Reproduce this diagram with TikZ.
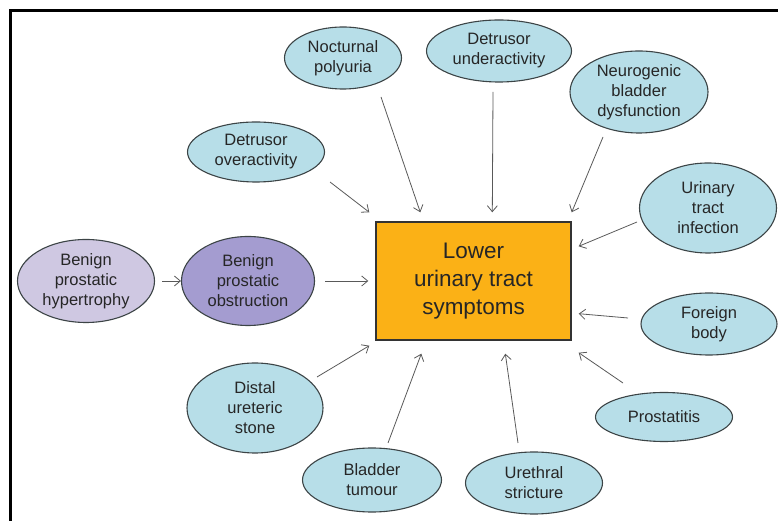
\documentclass[tikz,border=0pt]{standalone}
\usepackage{fontspec}
\setmainfont{Liberation Sans}
\usepackage{xcolor}
\usepackage{tikz}
\usetikzlibrary{shapes,arrows.meta,positioning}

\definecolor{causefill}{HTML}{B7DEE8}
\definecolor{bphfill}{HTML}{CFC8E2}
\definecolor{bpofill}{HTML}{A49CD0}
\definecolor{lutsfill}{HTML}{FBB116}
\definecolor{edgegray}{HTML}{3C4446}

\begin{document}
\begin{tikzpicture}[
  x=1pt, y=1pt,
  cause/.style={
    ellipse,
    draw=edgegray,
    line width=1.1pt,
    fill=causefill,
    inner sep=0pt,
    align=center,
    text=black!85,
    font=\fontsize{16.5}{20}\selectfont
  },
  luts/.style={
    rectangle,
    draw=black!80,
    line width=1.4pt,
    fill=lutsfill,
    minimum width=195pt,
    minimum height=118pt,
    align=center,
    text=black!85,
    font=\fontsize{22.5}{28}\selectfont
  },
  arrow/.style={
    ->,
    draw=black!65,
    line width=0.8pt,
    >={Straight Barb[length=6pt,width=10pt]}
  }
]
  \useasboundingbox (0,0) rectangle (778,521);

  % Frame
  \draw[line width=3pt] (10,0) -- (10,510) -- (778,510);

  % Lower urinary tract symptoms
  \node[luts] (symptoms) at (473.5,240) {Lower\\urinary tract\\symptoms};

  % Causes above
  \node[cause, minimum width=117pt, minimum height=62pt] (nocturnal) at (343,463) {Nocturnal\\polyuria};
  \node[cause, minimum width=145pt, minimum height=62pt] (underactive) at (499,470) {Detrusor\\underactivity};
  \node[cause, minimum width=138pt, minimum height=82pt] (neurogenic) at (639,429) {Neurogenic\\bladder\\dysfunction};
  \node[cause, minimum width=137pt, minimum height=60pt] (overactive) at (256,369) {Detrusor\\overactivity};

  % Causes to the right
  \node[cause, minimum width=137pt, minimum height=90pt] (infection) at (708,313) {Urinary\\tract\\infection};
  \node[cause, minimum width=136pt, minimum height=62pt] (foreign) at (709,197) {Foreign\\body};
  \node[cause, minimum width=137pt, minimum height=49pt] (prostatitis) at (664,104) {Prostatitis};

  % Causes below
  \node[cause, minimum width=136pt, minimum height=90pt] (stone) at (255,113) {Distal\\ureteric\\stone};
  \node[cause, minimum width=139pt, minimum height=64pt] (tumour) at (372,41) {Bladder\\tumour};
  \node[cause, minimum width=137pt, minimum height=62pt] (stricture) at (534,38) {Urethral\\stricture};

  % Prostate chain
  \node[cause, fill=bphfill, minimum width=137pt, minimum height=83pt] (hypertrophy) at (86,240) {Benign\\prostatic\\hypertrophy};
  \node[cause, fill=bpofill, minimum width=133pt, minimum height=89pt] (obstruction) at (248,240) {Benign\\prostatic\\obstruction};

  % Arrows - from above
  \draw[arrow] ([shift={(38,-39)}]nocturnal.center) -- ([shift={(45,9)}]symptoms.north west);
  \draw[arrow] ([shift={(-6,-41)}]underactive.center) -- ([shift={(117,9)}]symptoms.north west);
  \draw[arrow] ([shift={(-36,-45)}]neurogenic.center) -- ([shift={(0,9)}]symptoms.north east);
  \draw[arrow] ([shift={(74,-30)}]overactive.center) -- ([shift={(-6,9)}]symptoms.north west);

  % Arrows - from the right
  \draw[arrow] ([shift={(-71,-14)}]infection.center) -- ([shift={(7,-25)}]symptoms.north east);
  \draw[arrow] ([shift={(-81,6)}]foreign.center) -- ([shift={(7,27)}]symptoms.south east);
  \draw[arrow] ([shift={(-41,34)}]prostatitis.center) -- ([shift={(7,-12)}]symptoms.south east);

  % Arrows - from below
  \draw[arrow] ([shift={(62,31)}]stone.center) -- ([shift={(-6,-5)}]symptoms.south west);
  \draw[arrow] ([shift={(16,37)}]tumour.center) -- ([shift={(46,-13)}]symptoms.south west);
  \draw[arrow] ([shift={(-16,40)}]stricture.center) -- ([shift={(130,-13)}]symptoms.south west);

  % Prostate chain
  \draw[arrow] ([xshift=7pt]hypertrophy.east) -- (obstruction.west);
  \draw[arrow] ([xshift=10pt]obstruction.east) -- ([xshift=-7pt]symptoms.west);

\end{tikzpicture}
\end{document}
